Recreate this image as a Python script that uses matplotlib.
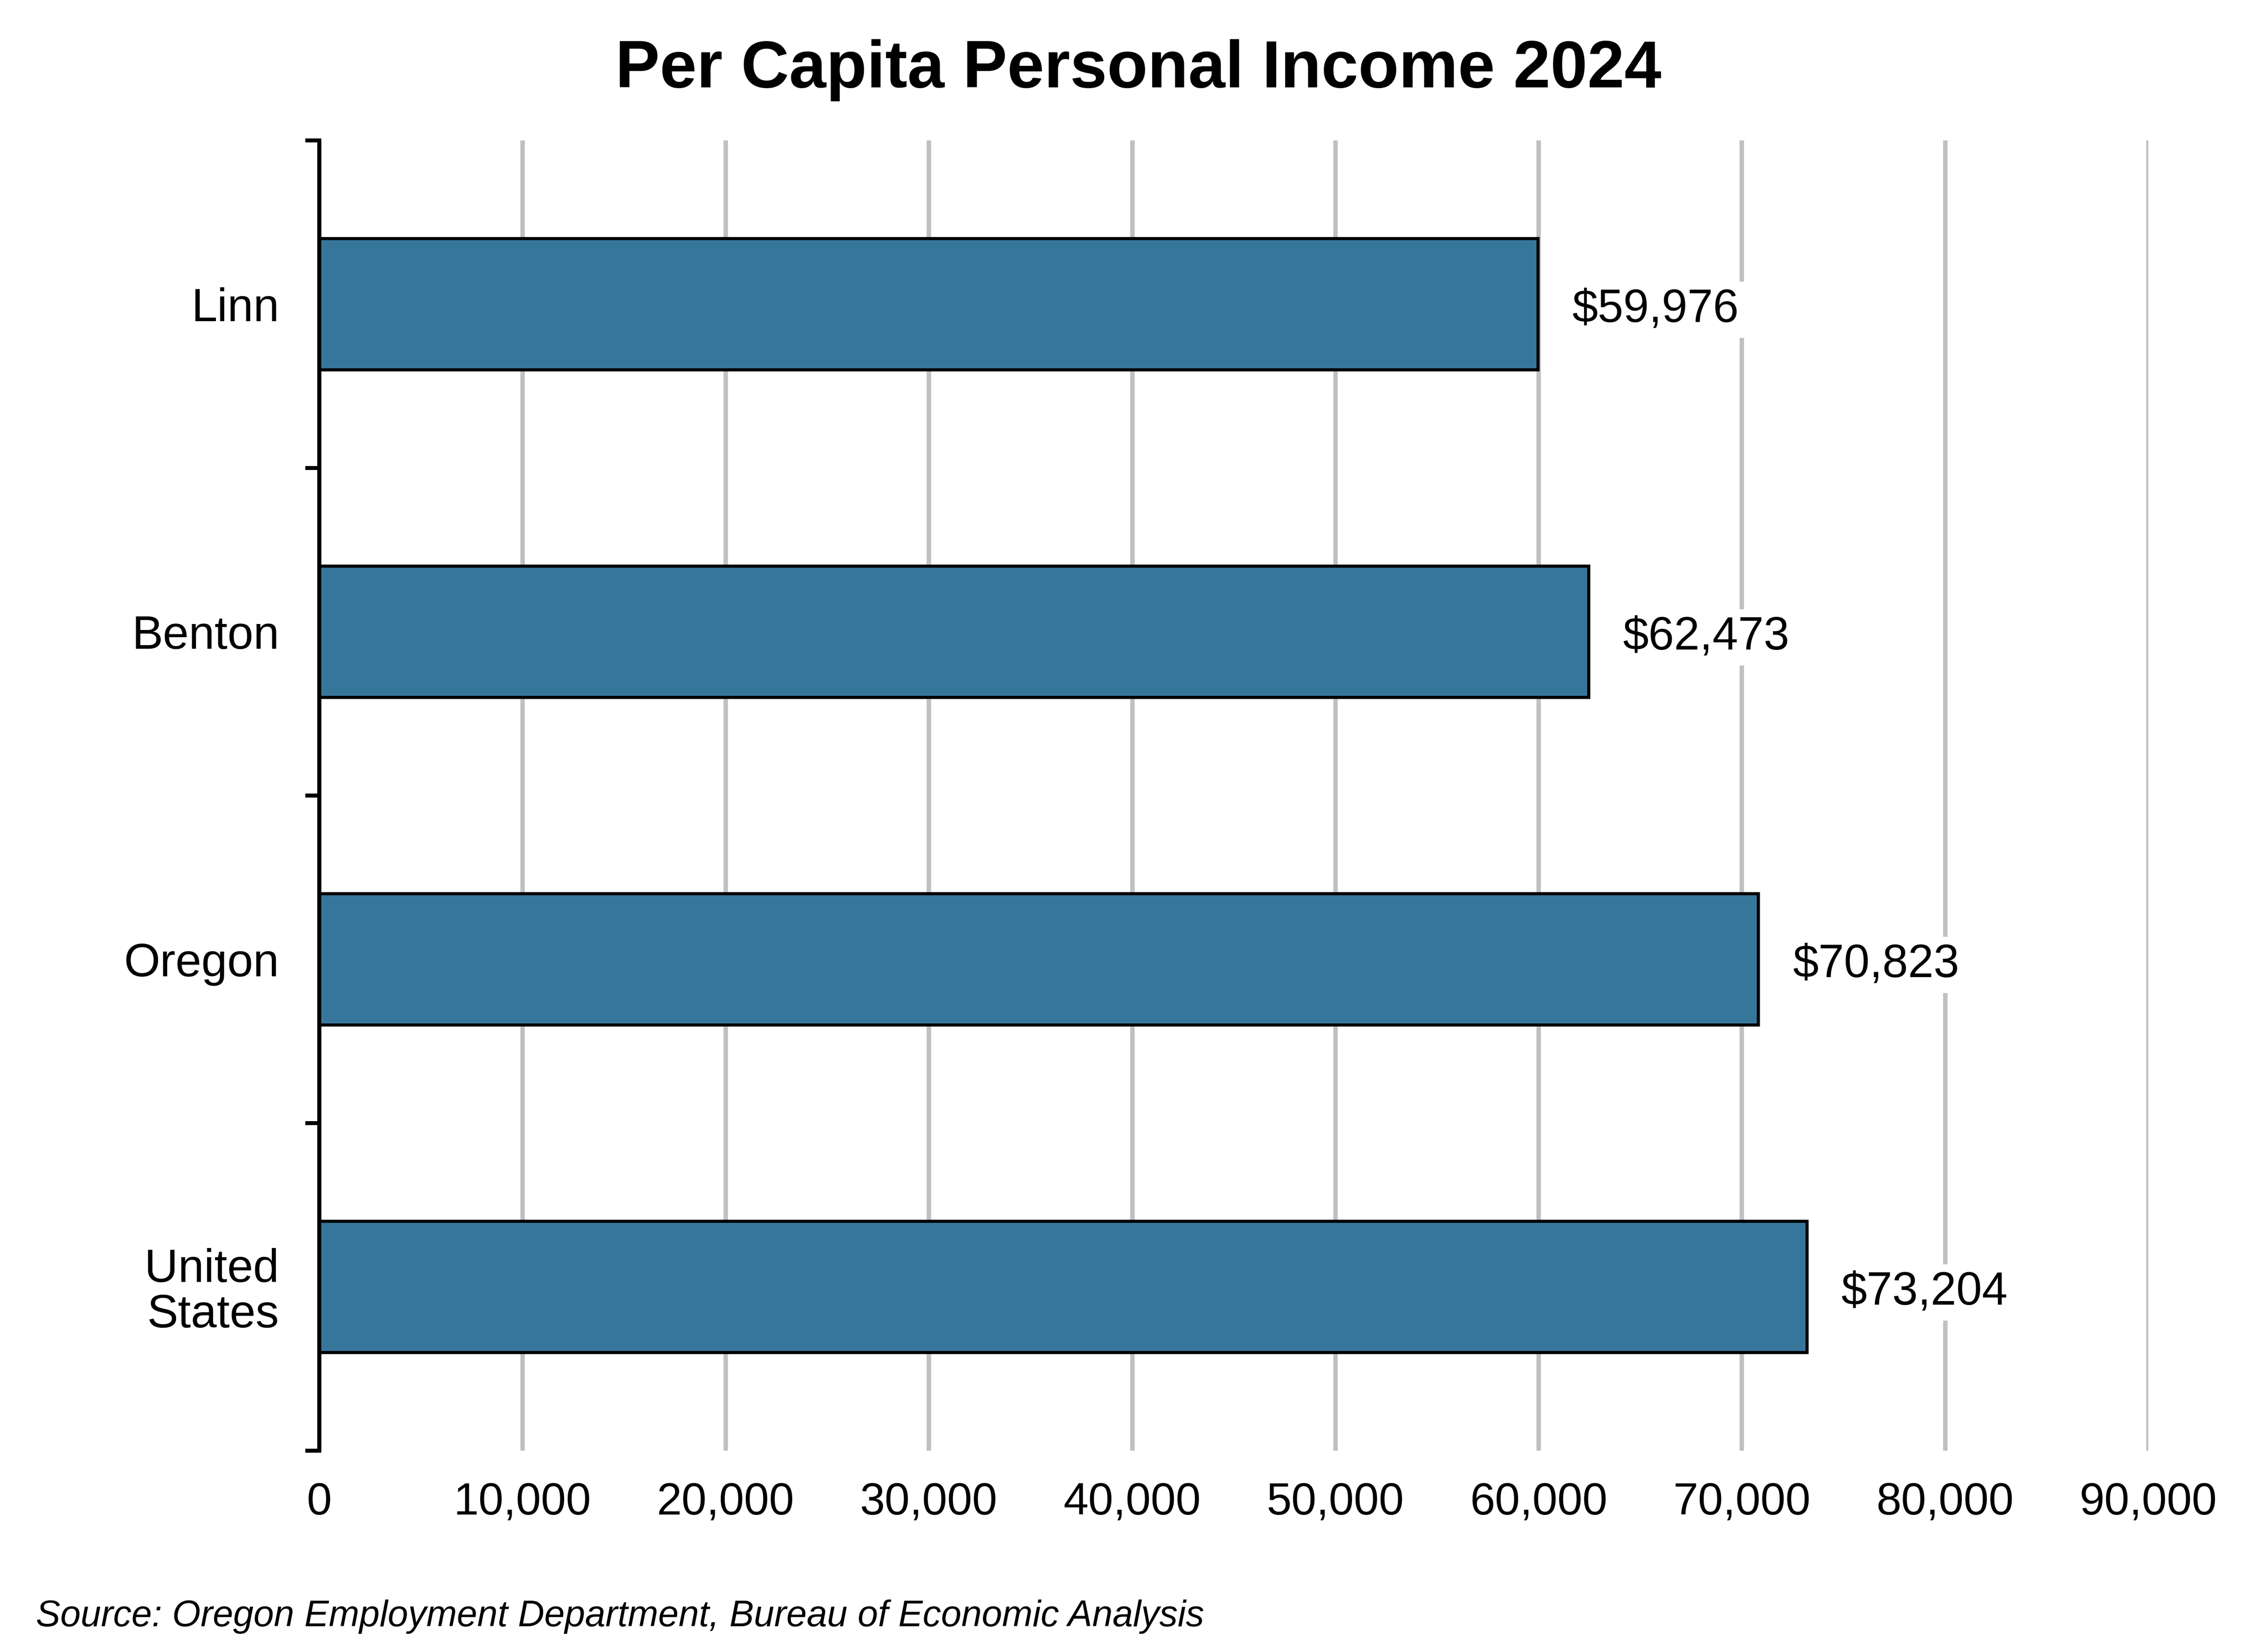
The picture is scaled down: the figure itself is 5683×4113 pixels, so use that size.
import matplotlib
matplotlib.use('Agg')
import matplotlib.pyplot as plt
from matplotlib.ticker import FuncFormatter

plt.rcParams['font.family'] = ['Liberation Sans', 'DejaVu Sans']

# data
regions = ['Linn', 'Benton', 'Oregon', 'United\nStates']
income = [59976, 62473, 70823, 73204]
value_labels = ['$59,976', '$62,473', '$70,823', '$73,204']
x_ticks = [0, 10000, 20000, 30000, 40000, 50000, 60000, 70000, 80000, 90000]

bar_color = '#37769B'
grid_color = '#C0C0C0'

fig = plt.figure(figsize=(5683 / 400, 4113 / 400), dpi=400)
ax = fig.add_axes([0.1407, 0.116, 0.9472 - 0.1407, 0.9144 - 0.116])

pos = list(range(len(regions)))
ax.barh(pos, income, height=0.4, color=bar_color, edgecolor='black', linewidth=1.4, zorder=3)

ax.set_xlim(0, 90000)
ax.set_ylim(len(regions) - 0.5, -0.5)

ax.set_xticks(x_ticks)
ax.xaxis.set_major_formatter(FuncFormatter(lambda v, p: '{:,.0f}'.format(v)))
ax.tick_params(axis='x', length=0, pad=14, labelsize=20.3)
ax.grid(axis='x', color=grid_color, linewidth=2.0, zorder=0)
ax.set_axisbelow(True)

# category labels at centres, tick marks at the boundaries
ax.set_yticks(pos)
ax.set_yticklabels(regions, linespacing=1.05)
ax.tick_params(axis='y', which='major', length=0, pad=18, labelsize=21)
ax.set_yticks([p - 0.5 for p in pos] + [len(regions) - 0.5], minor=True)
ax.tick_params(axis='y', which='minor', length=6.3, width=1.8, direction='out')

for side in ['top', 'right', 'bottom']:
    ax.spines[side].set_visible(False)
ax.spines['left'].set_linewidth(1.8)
ax.spines['left'].set_zorder(4)

for p, v, lab in zip(pos, income, value_labels):
    ax.annotate(lab, xy=(v, p), xytext=(15.5, -2.5), textcoords='offset points',
                ha='left', va='center', fontsize=20.8, zorder=5,
                bbox=dict(facecolor='white', edgecolor='none', pad=3))

fig.text(0.502, 0.9467, 'Per Capita Personal Income 2024', ha='center', va='baseline',
         fontsize=30, fontweight='bold')
fig.text(0.0158, 0.009, 'Source: Oregon Employment Department, Bureau of Economic Analysis',
         ha='left', va='baseline', fontsize=16.5, style='italic')

fig.savefig('out.png', dpi=400)
